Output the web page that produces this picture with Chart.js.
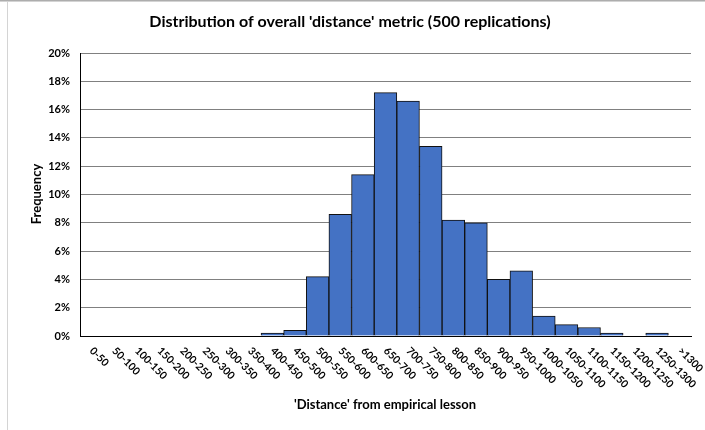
<!DOCTYPE html>
<html>
<head>
<meta charset="utf-8">
<script src="https://cdn.jsdelivr.net/npm/chart.js@4.4.1/dist/chart.umd.min.js"></script>
<style>
  html, body { margin: 0; padding: 0; background: #fff; }
  #wrap { position: relative; width: 705px; height: 430px; overflow: hidden; }
  #edgeTop { position: absolute; left: 0; top: 0; width: 705px; height: 2px; background: linear-gradient(#9a9a9a, #e6e6e6); }
  #edgeLeft { position: absolute; left: 7px; top: 2px; width: 1px; height: 428px; background: #d4d4d4; }
</style>
</head>
<body>
<div id="wrap">
  <canvas id="hist" width="705" height="430"></canvas>
  <div id="edgeTop"></div>
  <div id="edgeLeft"></div>
</div>
<script>
/* histogram of the distance metric, one bar per 50-wide bin */
const BINS = ["0-50","50-100","100-150","150-200","200-250","250-300","300-350","350-400",
  "400-450","450-500","500-550","550-600","600-650","650-700","700-750","750-800",
  "800-850","850-900","900-950","950-1000","1000-1050","1050-1100","1100-1150",
  "1150-1200","1200-1250","1250-1300",">1300"];
const FREQ = [0, 0, 0, 0, 0, 0, 0, 0,
  0.002, 0.004, 0.042, 0.086, 0.114, 0.172, 0.166, 0.134,
  0.082, 0.080, 0.040, 0.046, 0.014, 0.008, 0.006,
  0.002, 0, 0.002, 0];
const TITLE = "Distribution of overall 'distance' metric (500 replications)";
const X_TITLE = "'Distance' from empirical lesson";
const Y_TITLE = "Frequency";

const FONT = "Lato, 'Liberation Sans', sans-serif";

// titles and slanted bin labels (Excel tilts them down to the right)
const decor = {
  id: "decor",
  afterDraw(chart) {
    const ctx = chart.ctx, xs = chart.scales.x;
    ctx.save();
    ctx.fillStyle = "#000";
    ctx.font = "bold 16px " + FONT;
    ctx.textAlign = "center"; ctx.textBaseline = "middle";
    ctx.fillText(TITLE, 350, 22);

    ctx.font = "bold 13px " + FONT;
    ctx.fillText(X_TITLE, 385, 405);

    ctx.save();
    ctx.translate(37, 194);
    ctx.rotate(-Math.PI / 2);
    ctx.fillText(Y_TITLE, 0, 0);
    ctx.restore();

    ctx.font = "bold 10.5px " + FONT;
    ctx.textAlign = "left"; ctx.textBaseline = "middle";
    BINS.forEach((b, i) => {
      const x = xs.getPixelForValue(i);
      ctx.save();
      ctx.translate(x, xs.top + 13);
      ctx.rotate(Math.PI / 4);
      ctx.fillText(b, 0, 0);
      ctx.restore();
    });
    ctx.restore();
  }
};

new Chart(document.getElementById("hist"), {
  type: "bar",
  data: {
    labels: BINS,
    datasets: [{
      data: FREQ,
      backgroundColor: "#4472C4",
      borderColor: "#111",
      borderWidth: 1,
      categoryPercentage: 1,
      barPercentage: 1,
    }]
  },
  options: {
    responsive: false, animation: false,
    layout: { padding: { left: 0, right: 14, top: 53, bottom: 0 } },
    plugins: { legend: { display: false }, tooltip: { enabled: false } },
    scales: {
      x: {
        grid: { display: false },
        border: { display: true, color: "#000", width: 1 },
        ticks: { display: false },
        afterFit: s => { s.height = 94; },
      },
      y: {
        min: 0, max: 0.2,
        grid: { color: "#808080", drawTicks: false },
        border: { display: true, color: "#000", width: 1 },
        ticks: {
          stepSize: 0.02, padding: 10, color: "#000",
          font: { family: FONT, size: 11, weight: "bold" },
          callback: v => Math.round(v * 100) + "%",
        },
        afterFit: s => { s.width = 80; },
      }
    }
  },
  plugins: [decor]
});
</script>
</body>
</html>
